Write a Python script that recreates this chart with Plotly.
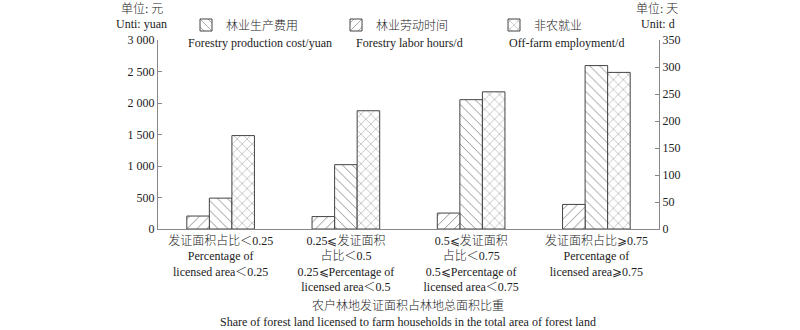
import plotly.graph_objects as go

categories = [
    "发证面积占比＜0.25<br>Percentage of<br>licensed area＜0.25",
    "0.25⩽发证面积<br>占比＜0.5<br>0.25⩽Percentage of<br>licensed area＜0.5",
    "0.5⩽发证面积<br>占比＜0.75<br>0.5⩽Percentage of<br>licensed area＜0.75",
    "发证面积占比⩾0.75<br>Percentage of<br>licensed area⩾0.75",
]
cost_yuan = [490, 1021, 2053, 2594]          # left axis
labor_days = [24, 23, 29.5, 45.5]            # right axis
offfarm_days = [173, 219, 254, 290]          # right axis

FONT = "Liberation Serif, 'Noto Sans CJK SC', serif"
L, R, T, B = 158, 141, 39, 101
PW, PH = 800 - L - R, 330 - T - B

def px_x(p):
    return (p - L) / PW

def px_y(p):
    return (330 - B - p) / PH

xs = list(range(len(categories)))
W = 0.18
line = dict(color="#444", width=1)

fig = go.Figure()
fig.add_trace(go.Bar(
    x=xs, y=labor_days, yaxis="y2", width=W, offset=-0.27,
    name="林业劳动时间", legend="legend2", showlegend=True,
    marker=dict(color="white", line=line,
                pattern=dict(shape="/", fgcolor="black", bgcolor="white", size=7, solidity=0.12)),
))
fig.add_trace(go.Bar(
    x=xs, y=cost_yuan, yaxis="y", width=W, offset=-0.09,
    name="林业生产费用", legend="legend", showlegend=True,
    marker=dict(color="white", line=line,
                pattern=dict(shape="\\", fgcolor="black", bgcolor="white", size=7, solidity=0.12)),
))
fig.add_trace(go.Bar(
    x=xs, y=offfarm_days, yaxis="y2", width=W, offset=0.09,
    name="非农就业", legend="legend3", showlegend=True,
    marker=dict(color="white", line=line,
                pattern=dict(shape="x", fgcolor="black", bgcolor="white", size=7, solidity=0.12)),
))

leg_common = dict(orientation="h", yanchor="middle", xanchor="left",
                  font=dict(family=FONT, size=12, color="#222", weight=300),
                  bgcolor="rgba(0,0,0,0)", borderwidth=0)
ly = px_y(25)
fig.update_layout(
    showlegend=True,
    legend=dict(x=px_x(186), y=ly, **leg_common),
    legend2=dict(x=px_x(336), y=ly, **leg_common),
    legend3=dict(x=px_x(494), y=ly, **leg_common),
)

axis_font = dict(family=FONT, size=12, color="#222", weight=300)
fig.update_layout(
    width=800, height=330,
    margin=dict(l=L, r=R, t=T, b=B),
    paper_bgcolor="white", plot_bgcolor="white",
    barmode="overlay",
    separators=". ",
    font=axis_font,
    xaxis=dict(
        range=[-0.5, 3.5], tickmode="array", tickvals=xs, ticktext=categories,
        showline=True, linecolor="#888", linewidth=1.2, ticks="",
        showgrid=False, zeroline=False, tickfont=axis_font,
    ),
    yaxis=dict(
        range=[0, 3000], dtick=500, tickformat=",d",
        showline=True, linecolor="#888", linewidth=1.2,
        ticks="inside", ticklen=4, tickcolor="#888",
        showgrid=False, zeroline=False, tickfont=axis_font,
    ),
    yaxis2=dict(
        range=[0, 350], dtick=50, overlaying="y", side="right",
        showline=True, linecolor="#888", linewidth=1.2,
        ticks="inside", ticklen=4, tickcolor="#888",
        showgrid=False, zeroline=False, tickfont=axis_font,
    ),
)

ann = [
    ("单位: 元", 142, 8), ("Unti: yuan", 141, 23),
    ("单位: 天", 657, 8), ("Unit: d", 658, 23),
    ("Forestry production cost/yuan", 260, 42),
    ("Forestry labor hours/d", 409, 42),
    ("Off-farm employment/d", 566, 42),
    ("农户林地发证面积占林地总面积比重", 408, 306),
    ("Share of forest land licensed to farm households in the total area of forest land", 408, 322),
]
for text, x, y in ann:
    fig.add_annotation(text=text, x=px_x(x), y=px_y(y), xref="paper", yref="paper",
                       xanchor="center", yanchor="middle", showarrow=False,
                       font=axis_font)

fig.write_html("out.html")
